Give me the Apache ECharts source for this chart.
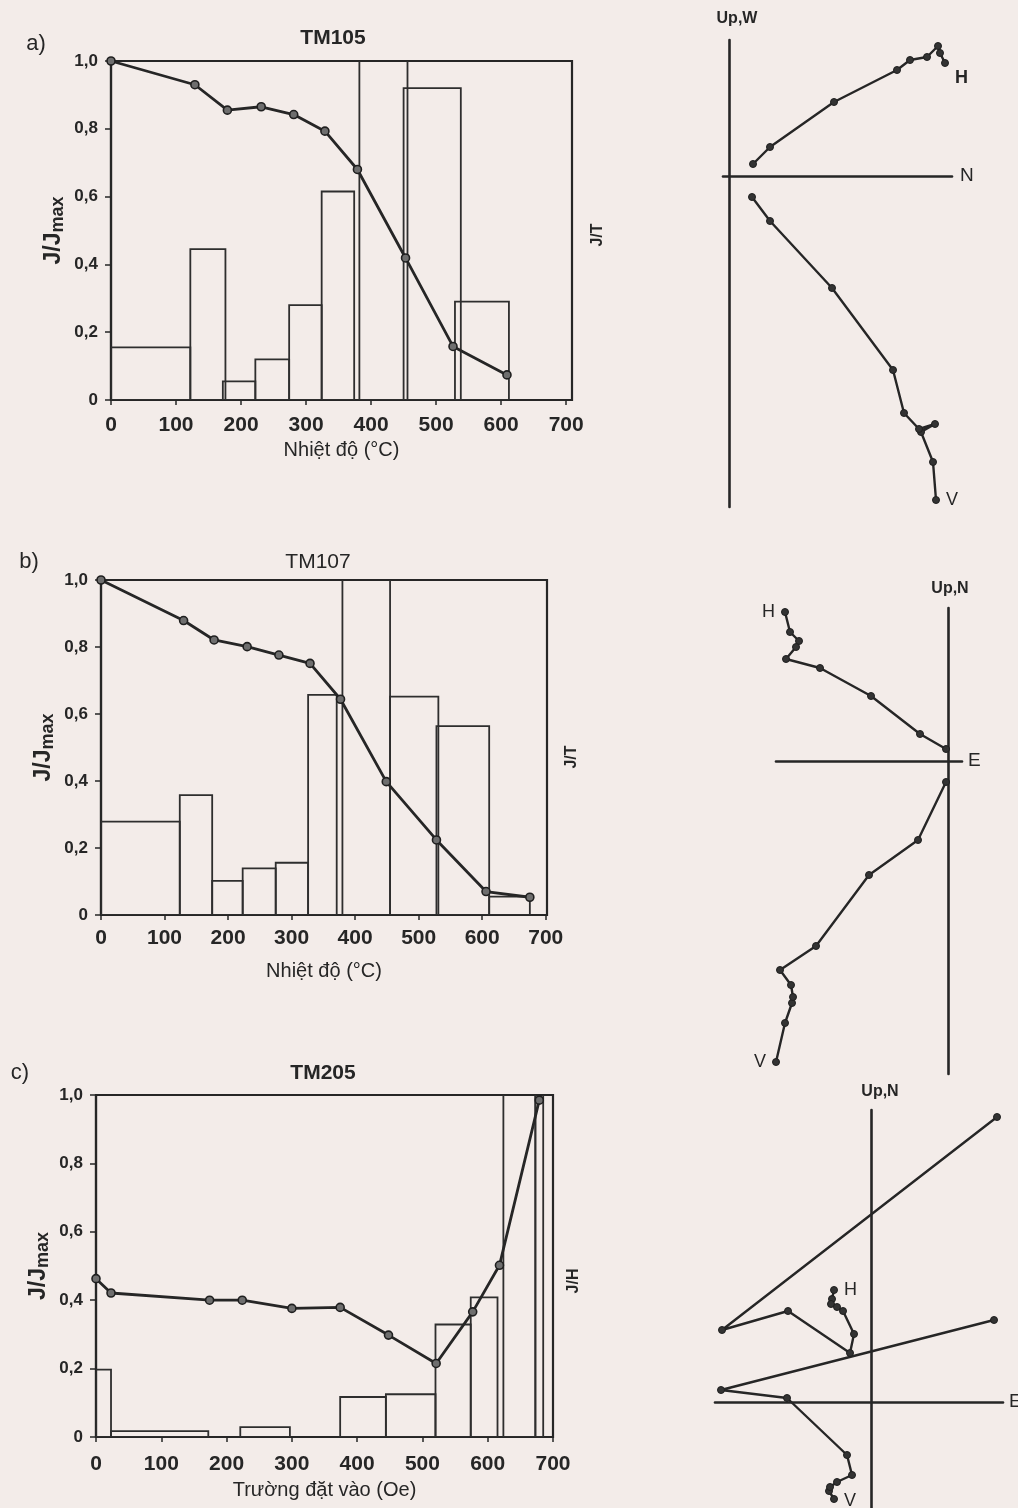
<!DOCTYPE html>
<html><head><meta charset="utf-8">
<script src="https://cdn.jsdelivr.net/npm/echarts@6/dist/echarts.min.js"></script>
<style>html,body{margin:0;padding:0;background:#f3ece9}#c{width:1018px;height:1508px}</style>
</head><body><div id="c"></div>
<script>
// ---------- DATA ----------
const xTicks = [0, 100, 200, 300, 400, 500, 600, 700];
const yTicks = [0, 0.2, 0.4, 0.6, 0.8, 1.0];

// a) TM105 thermal demagnetisation
const tempA = [0, 129, 179, 231, 281, 329, 379, 453, 526, 609];
const jA = [1.0, 0.93, 0.855, 0.865, 0.842, 0.793, 0.68, 0.419, 0.158, 0.074];
const barStartA = [0, 122, 172, 222, 274, 324, 382, 450, 529];
const barEndA = [122, 176, 222, 274, 324, 374, 456, 538, 612];
const barHA = [0.155, 0.445, 0.055, 0.12, 0.28, 0.615, 1.1, 0.92, 0.29];

// b) TM107 thermal demagnetisation
const tempB = [0, 130, 178, 230, 280, 329, 377, 449, 528, 606, 675];
const jB = [1.0, 0.879, 0.821, 0.801, 0.776, 0.751, 0.644, 0.398, 0.224, 0.07, 0.053];
const barStartB = [0, 124, 175, 223, 275, 326, 380, 455, 528, 611];
const barEndB = [124, 175, 223, 275, 326, 371, 455, 531, 611, 675];
const barHB = [0.279, 0.358, 0.102, 0.139, 0.156, 0.657, 1.1, 0.652, 0.564, 0.055];

// c) TM205 alternating-field demagnetisation
const fieldC = [0, 23, 174, 224, 300, 374, 448, 521, 577, 618, 679];
const jC = [0.463, 0.421, 0.400, 0.400, 0.376, 0.379, 0.298, 0.215, 0.366, 0.502, 0.985];
const barStartC = [0, 23, 221, 374, 444, 520, 574, 624, 673];
const barEndC = [23, 172, 297, 444, 520, 574, 615, 673, 685];
const barHC = [0.197, 0.017, 0.029, 0.117, 0.125, 0.329, 0.408, 1.1, 1.1];

// Zijderveld diagrams (arbitrary units), first point = labelled end
const zaHx = [216, 211, 209, 198, 181, 168, 105, 41, 24];
const zaHy = [113, 123, 130, 119, 116, 106, 74, 29, 12];
const zaVx = [207, 204, 192, 206, 190, 175, 164, 103, 41, 23];
const zaVy = [-324, -286, -256, -248, -253, -237, -194, -112, -45, -21];

const zbHx = [-163, -158, -149, -152, -162, -128, -77, -28, -2];
const zbHy = [149, 129, 120, 114, 102, 93, 65, 27, 12];
const zbVx = [-172, -163, -156, -155, -157, -168, -132, -79, -30, -2];
const zbVy = [-301, -262, -242, -236, -224, -209, -185, -114, -79, -21];

const zcHx = [-37, -39, -40, -34, -28, -17, -21, -83, -149, 126];
const zcHy = [112, 103, 98, 95, 91, 68, 49, 91, 72, 285];
const zcVx = [-37, -42, -41, -34, -19, -24, -84, -150, 123];
const zcVy = [-97, -89, -85, -80, -73, -53, 4, 12, 82];

// ---------- STYLE ----------
const INK = '#262626';
const FONT = 'Liberation Sans, Arial, sans-serif';

const leftGrids = [
  {left: 111, top: 61, width: 461, height: 339, xmax: 709, xName: 'Nhiệt độ (°C)', xGap: 40, xMargin: 15},
  {left: 101, top: 580, width: 446, height: 335, xmax: 702, xName: 'Nhiệt độ (°C)', xGap: 46, xMargin: 13},
  {left: 96, top: 1095, width: 457, height: 342, xmax: 700, xName: 'Trường đặt vào (Oe)', xGap: 43, xMargin: 17}
];
const zijGrids = [
  {left: 723, top: 40, width: 229, height: 467, xmin: -6, xmax: 223, ymin: -331, ymax: 136, xn: 'N', yn: 'Up,W', xg: 8, yg: 13, pad: 16},
  {left: 776, top: 608, width: 186, height: 466, xmin: -172, xmax: 14, ymin: -313, ymax: 153, xn: 'E', yn: 'Up,N', xg: 6, yg: 11, pad: 4},
  {left: 715, top: 1110, width: 288, height: 398, xmin: -156, xmax: 132, ymin: -106, ymax: 292, xn: 'E', yn: 'Up,N', xg: 6, yg: 10, pad: 18}
];

const grids = [], xAxes = [], yAxes = [], series = [];

function fmtY(v) { return v === 0 ? '0' : v.toFixed(1).replace('.', ','); }

leftGrids.forEach((g, i) => {
  grids.push({left: g.left, top: g.top, width: g.width, height: g.height, show: true,
    borderColor: INK, borderWidth: 2.2, backgroundColor: 'transparent', outerBoundsMode: 'none'});
  xAxes.push({type: 'value', gridIndex: i, min: 0, max: g.xmax,
    name: g.xName, nameLocation: 'middle', nameGap: g.xGap,
    nameTextStyle: {fontFamily: FONT, fontSize: 20, color: INK},
    axisLine: {show: true, onZero: false, lineStyle: {color: INK, width: 2.2}},
    axisTick: {show: true, customValues: xTicks, length: 5, lineStyle: {color: INK, width: 1.5}},
    axisLabel: {customValues: xTicks, margin: g.xMargin, fontFamily: FONT, fontSize: 21, fontWeight: 'bold', color: INK,
      formatter: v => (v % 100 === 0 ? String(v) : '')},
    splitLine: {show: false}});
  yAxes.push({type: 'value', gridIndex: i, min: 0, max: 1, interval: 0.2,
    name: 'J/J{s|max}', nameLocation: 'middle', nameGap: 44, nameRotate: 90,
    nameTextStyle: {fontFamily: FONT, fontSize: 23, fontWeight: 'bold', color: INK,
      rich: {s: {fontFamily: FONT, fontSize: 18, fontWeight: 'bold', color: INK, verticalAlign: 'bottom', padding: [8, 0, 0, 0]}}},
    axisLine: {show: true, lineStyle: {color: INK, width: 2.2}},
    axisTick: {show: true, length: 6, lineStyle: {color: INK, width: 1.5}},
    axisLabel: {margin: 13, fontFamily: FONT, fontSize: 17, fontWeight: 'bold', color: INK, formatter: fmtY},
    splitLine: {show: false}});
});

zijGrids.forEach((g, k) => {
  const i = k + 3;
  grids.push({left: g.left, top: g.top, width: g.width, height: g.height, show: false, outerBoundsMode: 'none'});
  xAxes.push({type: 'value', gridIndex: i, min: g.xmin, max: g.xmax,
    name: g.xn, nameLocation: 'end', nameGap: g.xg,
    nameTextStyle: {fontFamily: FONT, fontSize: 19, color: INK},
    axisLine: {show: true, onZero: true, lineStyle: {color: INK, width: 2.6}},
    axisTick: {show: false}, axisLabel: {show: false}, splitLine: {show: false}});
  yAxes.push({type: 'value', gridIndex: i, min: g.ymin, max: g.ymax,
    name: g.yn, nameLocation: 'end', nameGap: g.yg,
    nameTextStyle: {fontFamily: FONT, fontSize: 16, fontWeight: 'bold', color: INK, padding: [0, 0, 0, g.pad]},
    axisLine: {show: true, onZero: true, lineStyle: {color: INK, width: 2.6}},
    axisTick: {show: false}, axisLabel: {show: false}, splitLine: {show: false}});
});

function barSeries(starts, ends, hs, gi) {
  return {type: 'custom', xAxisIndex: gi, yAxisIndex: gi, clip: true, z: 2, silent: true,
    data: starts.map((s, j) => [s, ends[j], hs[j]]),
    encode: {x: [0, 1], y: 2},
    renderItem: function (params, api) {
      const p0 = api.coord([api.value(0), 0]);
      const p1 = api.coord([api.value(1), api.value(2)]);
      return {type: 'rect', shape: {x: p0[0], y: p1[1], width: p1[0] - p0[0], height: p0[1] - p1[1]},
        style: {fill: 'none', stroke: '#2e2e2e', lineWidth: 1.8}};
    }};
}
function demagSeries(xs, ys, gi) {
  return {type: 'line', xAxisIndex: gi, yAxisIndex: gi, z: 5, symbol: 'circle', symbolSize: 8,
    data: xs.map((x, j) => [x, ys[j]]),
    lineStyle: {color: INK, width: 2.8},
    itemStyle: {color: '#6e6e6e', borderColor: '#1f1f1f', borderWidth: 1.6}};
}
function zijSeries(xs, ys, gi, lab, pos, off, bold) {
  return {type: 'line', xAxisIndex: gi, yAxisIndex: gi, z: 5, symbol: 'circle', symbolSize: 7,
    data: xs.map((x, j) => j === 0 ? {value: [x, ys[j]], label: {show: true, formatter: lab, position: pos, offset: off,
      distance: 6, fontFamily: FONT, fontSize: 18, fontWeight: bold ? 'bold' : 'normal', color: INK}} : [x, ys[j]]),
    lineStyle: {color: INK, width: 2.4},
    itemStyle: {color: '#333', borderColor: '#1f1f1f', borderWidth: 1}};
}

series.push(barSeries(barStartA, barEndA, barHA, 0), demagSeries(tempA, jA, 0));
series.push(barSeries(barStartB, barEndB, barHB, 1), demagSeries(tempB, jB, 1));
series.push(barSeries(barStartC, barEndC, barHC, 2), demagSeries(fieldC, jC, 2));
series.push(zijSeries(zaHx, zaHy, 3, 'H', 'right', [0, 15], true), zijSeries(zaVx, zaVy, 3, 'V', 'right', [0, 0], false));
series.push(zijSeries(zbHx, zbHy, 4, 'H', 'left', [0, 0], false), zijSeries(zbVx, zbVy, 4, 'V', 'left', [0, 0], false));
series.push(zijSeries(zcHx, zcHy, 5, 'H', 'right', [0, 0], false), zijSeries(zcVx, zcVy, 5, 'V', 'right', [0, 2], false));

function txt(x, y, t, size, weight, rot) {
  return {type: 'text', x: x, y: y, rotation: rot || 0, silent: true,
    style: {text: t, font: (weight || 'normal') + ' ' + size + 'px ' + FONT, fill: INK, align: 'center', verticalAlign: 'middle'}};
}

const graphic = [
  txt(36, 44, 'a)', 22), txt(333, 38, 'TM105', 21, 'bold'),
  txt(29, 562, 'b)', 22), txt(318, 562, 'TM107', 21),
  txt(20, 1073, 'c)', 22), txt(323, 1073, 'TM205', 21, 'bold'),
  txt(598, 235, 'J/T', 16, 'bold', Math.PI / 2),
  txt(572, 757, 'J/T', 16, 'bold', Math.PI / 2),
  txt(574, 1281, 'J/H', 16, 'bold', Math.PI / 2)
];

const chart = echarts.init(document.getElementById('c'));
chart.setOption({
  backgroundColor: '#f3ece9',
  animation: false,
  grid: grids, xAxis: xAxes, yAxis: yAxes, series: series, graphic: graphic
});
</script></body></html>
